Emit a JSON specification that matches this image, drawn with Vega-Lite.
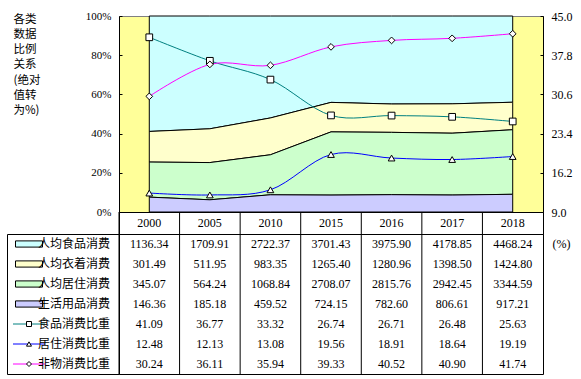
{
  "$schema": "https://vega.github.io/schema/vega-lite/v6.json",
  "datasets": {
    "表": [
      {"项目": "人均食品消费", "年份": "2000", "值": 1136.34},
      {"项目": "人均食品消费", "年份": "2005", "值": 1709.91},
      {"项目": "人均食品消费", "年份": "2010", "值": 2722.37},
      {"项目": "人均食品消费", "年份": "2015", "值": 3701.43},
      {"项目": "人均食品消费", "年份": "2016", "值": 3975.90},
      {"项目": "人均食品消费", "年份": "2017", "值": 4178.85},
      {"项目": "人均食品消费", "年份": "2018", "值": 4468.24},
      {"项目": "人均衣着消费", "年份": "2000", "值": 301.49},
      {"项目": "人均衣着消费", "年份": "2005", "值": 511.95},
      {"项目": "人均衣着消费", "年份": "2010", "值": 983.35},
      {"项目": "人均衣着消费", "年份": "2015", "值": 1265.40},
      {"项目": "人均衣着消费", "年份": "2016", "值": 1280.96},
      {"项目": "人均衣着消费", "年份": "2017", "值": 1398.50},
      {"项目": "人均衣着消费", "年份": "2018", "值": 1424.80},
      {"项目": "人均居住消费", "年份": "2000", "值": 345.07},
      {"项目": "人均居住消费", "年份": "2005", "值": 564.24},
      {"项目": "人均居住消费", "年份": "2010", "值": 1068.84},
      {"项目": "人均居住消费", "年份": "2015", "值": 2708.07},
      {"项目": "人均居住消费", "年份": "2016", "值": 2815.76},
      {"项目": "人均居住消费", "年份": "2017", "值": 2942.45},
      {"项目": "人均居住消费", "年份": "2018", "值": 3344.59},
      {"项目": "生活用品消费", "年份": "2000", "值": 146.36},
      {"项目": "生活用品消费", "年份": "2005", "值": 185.18},
      {"项目": "生活用品消费", "年份": "2010", "值": 459.52},
      {"项目": "生活用品消费", "年份": "2015", "值": 724.15},
      {"项目": "生活用品消费", "年份": "2016", "值": 782.60},
      {"项目": "生活用品消费", "年份": "2017", "值": 806.61},
      {"项目": "生活用品消费", "年份": "2018", "值": 917.21},
      {"项目": "食品消费比重", "年份": "2000", "值": 41.09},
      {"项目": "食品消费比重", "年份": "2005", "值": 36.77},
      {"项目": "食品消费比重", "年份": "2010", "值": 33.32},
      {"项目": "食品消费比重", "年份": "2015", "值": 26.74},
      {"项目": "食品消费比重", "年份": "2016", "值": 26.71},
      {"项目": "食品消费比重", "年份": "2017", "值": 26.48},
      {"项目": "食品消费比重", "年份": "2018", "值": 25.63},
      {"项目": "居住消费比重", "年份": "2000", "值": 12.48},
      {"项目": "居住消费比重", "年份": "2005", "值": 12.13},
      {"项目": "居住消费比重", "年份": "2010", "值": 13.08},
      {"项目": "居住消费比重", "年份": "2015", "值": 19.56},
      {"项目": "居住消费比重", "年份": "2016", "值": 18.91},
      {"项目": "居住消费比重", "年份": "2017", "值": 18.64},
      {"项目": "居住消费比重", "年份": "2018", "值": 19.19},
      {"项目": "非物消费比重", "年份": "2000", "值": 30.24},
      {"项目": "非物消费比重", "年份": "2005", "值": 36.11},
      {"项目": "非物消费比重", "年份": "2010", "值": 35.94},
      {"项目": "非物消费比重", "年份": "2015", "值": 39.33},
      {"项目": "非物消费比重", "年份": "2016", "值": 40.52},
      {"项目": "非物消费比重", "年份": "2017", "值": 40.90},
      {"项目": "非物消费比重", "年份": "2018", "值": 41.74}
    ]
  },
  "columns": 2,
  "spacing": 0,
  "align": "each",
  "bounds": "flush",
  "padding": {"left": 6, "top": 9, "right": 4, "bottom": 4},
  "config": {
    "view": {"stroke": null},
    "text": {"font": "Liberation Serif", "fontSize": 12, "color": "black"}
  },
  "concat": [
    {
      "width": 112, "height": 196,
      "data": {"values": [{}]},
      "mark": {"type": "text"},
      "encoding": {"text": {"value": ""}}
    },
    {
      "width": 424, "height": 196,
      "view": {"fill": "#FFFF99", "stroke": "#808080"},
      "data": {"name": "表"},
      "layer": [
        {
          "transform": [
            {"filter": {"field": "项目", "oneOf": ["生活用品消费", "人均居住消费", "人均衣着消费", "人均食品消费"]}},
            {"calculate": "indexof(['生活用品消费', '人均居住消费', '人均衣着消费', '人均食品消费'], datum['项目'])", "as": "次序"}
          ],
          "mark": {"type": "area", "stroke": "black", "strokeWidth": 1, "opacity": 1},
          "encoding": {
            "x": {"field": "年份", "type": "ordinal", "scale": {"type": "point", "padding": 0.5}, "axis": null},
            "y": {
              "field": "值", "type": "quantitative", "stack": "normalize",
              "scale": {"domain": [0, 1], "nice": false},
              "axis": {
                "orient": "left", "values": [0, 0.2, 0.4, 0.6, 0.8, 1], "format": ".0%", "grid": false,
                "domainColor": "black", "tickColor": "black", "tickSize": -3, "labelPadding": 11,
                "labelFont": "Liberation Serif", "labelFontSize": 11, "labelColor": "black",
                "title": ["各类", "数据", "比例", "关系", "(绝对", "值转", "为%)"],
                "titleAngle": 0, "titleAlign": "left", "titleBaseline": "top", "titleX": -106, "titleY": -3,
                "titleFont": "Noto Sans CJK SC", "titleFontSize": 11.5, "titleFontWeight": "normal",
                "titleLineHeight": 15.3, "titleColor": "black"
              }
            },
            "order": {"field": "次序", "type": "quantitative", "sort": "ascending"},
            "color": {
              "field": "项目", "type": "nominal",
              "scale": {
                "domain": ["人均食品消费", "人均衣着消费", "人均居住消费", "生活用品消费", "食品消费比重", "居住消费比重", "非物消费比重"],
                "range": ["#CCFFFF", "#FFFFCC", "#CCFFCC", "#CCCCFF", "#008080", "#0000FF", "#FF00FF"]
              },
              "legend": null
            }
          }
        },
        {
          "transform": [{"filter": {"field": "项目", "oneOf": ["食品消费比重", "居住消费比重", "非物消费比重"]}}],
          "encoding": {
            "x": {"field": "年份", "type": "ordinal", "scale": {"type": "point", "padding": 0.5}, "axis": null},
            "y": {
              "field": "值", "type": "quantitative",
              "scale": {"domain": [9, 45], "nice": false, "zero": false},
              "axis": {
                "orient": "right", "values": [9, 16.2, 23.4, 30.6, 37.8, 45], "format": ".1f", "grid": false,
                "domainColor": "black", "tickColor": "black", "tickSize": -3, "labelPadding": 11,
                "labelFont": "Liberation Serif", "labelFontSize": 12, "labelColor": "black", "title": null
              }
            }
          },
          "layer": [
            {
              "mark": {"type": "line", "interpolate": "cardinal", "strokeWidth": 1},
              "encoding": {
                "color": {
                  "field": "项目", "type": "nominal",
                  "scale": {
                    "domain": ["人均食品消费", "人均衣着消费", "人均居住消费", "生活用品消费", "食品消费比重", "居住消费比重", "非物消费比重"],
                    "range": ["#CCFFFF", "#FFFFCC", "#CCFFCC", "#CCCCFF", "#008080", "#0000FF", "#FF00FF"]
                  },
                  "legend": null
                }
              }
            },
            {
              "mark": {"type": "point", "filled": true, "fill": "white", "stroke": "black", "strokeWidth": 1, "opacity": 1, "size": 45},
              "encoding": {
                "shape": {
                  "field": "项目", "type": "nominal",
                  "scale": {"domain": ["食品消费比重", "居住消费比重", "非物消费比重"], "range": ["square", "triangle-up", "diamond"]},
                  "legend": null
                }
              }
            }
          ]
        }
      ],
      "resolve": {"scale": {"y": "independent"}}
    },
    {
      "width": 112, "height": 22,
      "data": {"values": [{}]},
      "mark": {"type": "text"},
      "encoding": {"text": {"value": ""}}
    },
    {
      "width": 424, "height": 22,
      "view": {"stroke": "black"},
      "data": {"name": "表"},
      "transform": [{"filter": {"field": "项目", "equal": "人均食品消费"}}],
      "layer": [
        {
          "mark": {"type": "rule", "color": "black", "strokeWidth": 1},
          "encoding": {
            "x": {"field": "年份", "type": "ordinal", "bandPosition": 0, "scale": {"type": "band", "paddingInner": 0, "paddingOuter": 0}, "axis": null}
          }
        },
        {
          "mark": {"type": "text", "font": "Liberation Serif", "fontSize": 12, "color": "black"},
          "encoding": {
            "x": {"field": "年份", "type": "ordinal", "scale": {"type": "band", "paddingInner": 0, "paddingOuter": 0}, "axis": null},
            "text": {"field": "年份", "type": "nominal"}
          }
        }
      ]
    },
    {
      "width": 112, "height": 140,
      "view": {"stroke": "black"},
      "data": {"name": "表"},
      "transform": [{"filter": {"field": "年份", "equal": "2000"}}],
      "encoding": {
        "y": {
          "field": "项目", "type": "nominal",
          "scale": {"type": "band", "paddingInner": 0, "paddingOuter": 0, "domain": ["人均食品消费", "人均衣着消费", "人均居住消费", "生活用品消费", "食品消费比重", "居住消费比重", "非物消费比重"]},
          "axis": null
        }
      },
      "layer": [
        {
          "transform": [{"filter": {"field": "项目", "oneOf": ["人均食品消费", "人均衣着消费", "人均居住消费", "生活用品消费"]}}],
          "mark": {"type": "point", "shape": "M-1,-0.23L1,-0.23L1,0.23L-1,0.23Z", "size": 729, "filled": true, "stroke": "black", "strokeWidth": 1, "opacity": 1},
          "encoding": {
            "x": {"datum": "图例", "type": "nominal", "scale": {"type": "point", "domain": ["图例", "名称"], "range": [17.5, 35.5]}, "axis": null},
            "fill": {
              "field": "项目", "type": "nominal",
              "scale": {"domain": ["人均食品消费", "人均衣着消费", "人均居住消费", "生活用品消费"], "range": ["#CCFFFF", "#FFFFCC", "#CCFFCC", "#CCCCFF"]},
              "legend": null
            }
          }
        },
        {
          "transform": [{"filter": {"field": "项目", "oneOf": ["食品消费比重", "居住消费比重", "非物消费比重"]}}],
          "mark": {"type": "point", "shape": "M-1,0L1,0", "size": 1024, "filled": false, "strokeWidth": 1, "opacity": 1},
          "encoding": {
            "x": {"datum": "图例", "type": "nominal", "scale": {"type": "point", "domain": ["图例", "名称"], "range": [17.5, 35.5]}, "axis": null},
            "stroke": {
              "field": "项目", "type": "nominal",
              "scale": {"domain": ["食品消费比重", "居住消费比重", "非物消费比重"], "range": ["#008080", "#0000FF", "#FF00FF"]},
              "legend": null
            }
          }
        },
        {
          "transform": [{"filter": {"field": "项目", "oneOf": ["食品消费比重", "居住消费比重", "非物消费比重"]}}],
          "mark": {"type": "point", "filled": true, "fill": "white", "stroke": "black", "strokeWidth": 1, "opacity": 1, "size": 25},
          "encoding": {
            "x": {"datum": "图例", "type": "nominal", "scale": {"type": "point", "domain": ["图例", "名称"], "range": [17.5, 35.5]}, "axis": null},
            "shape": {
              "field": "项目", "type": "nominal",
              "scale": {"domain": ["食品消费比重", "居住消费比重", "非物消费比重"], "range": ["square", "triangle-up", "diamond"]},
              "legend": null
            }
          }
        },
        {
          "mark": {"type": "text", "align": "left", "font": "Noto Sans CJK SC", "fontSize": 12, "color": "black"},
          "encoding": {
            "x": {"datum": "名称", "type": "nominal", "scale": {"type": "point", "domain": ["图例", "名称"], "range": [17.5, 35.5]}, "axis": null},
            "text": {"field": "项目", "type": "nominal"}
          }
        }
      ]
    },
    {
      "width": 424, "height": 140,
      "view": {"stroke": "black"},
      "data": {"name": "表"},
      "layer": [
        {
          "transform": [{"filter": {"field": "项目", "equal": "人均食品消费"}}],
          "mark": {"type": "rule", "color": "black", "strokeWidth": 1},
          "encoding": {
            "x": {"field": "年份", "type": "ordinal", "bandPosition": 0, "scale": {"type": "band", "paddingInner": 0, "paddingOuter": 0}, "axis": null}
          }
        },
        {
          "mark": {"type": "text", "font": "Liberation Serif", "fontSize": 12, "color": "black"},
          "encoding": {
            "x": {"field": "年份", "type": "ordinal", "scale": {"type": "band", "paddingInner": 0, "paddingOuter": 0}, "axis": null},
            "y": {
              "field": "项目", "type": "nominal",
              "scale": {"type": "band", "paddingInner": 0, "paddingOuter": 0, "domain": ["人均食品消费", "人均衣着消费", "人均居住消费", "生活用品消费", "食品消费比重", "居住消费比重", "非物消费比重"]},
              "axis": {
                "orient": "right", "values": ["人均食品消费"], "labelExpr": "'(%)'", "ticks": false, "domain": false,
                "labelPadding": 9, "labelFont": "Liberation Serif", "labelFontSize": 12, "labelColor": "black", "title": null
              }
            },
            "text": {"field": "值", "type": "quantitative", "format": ".2f"}
          }
        }
      ]
    }
  ]
}
